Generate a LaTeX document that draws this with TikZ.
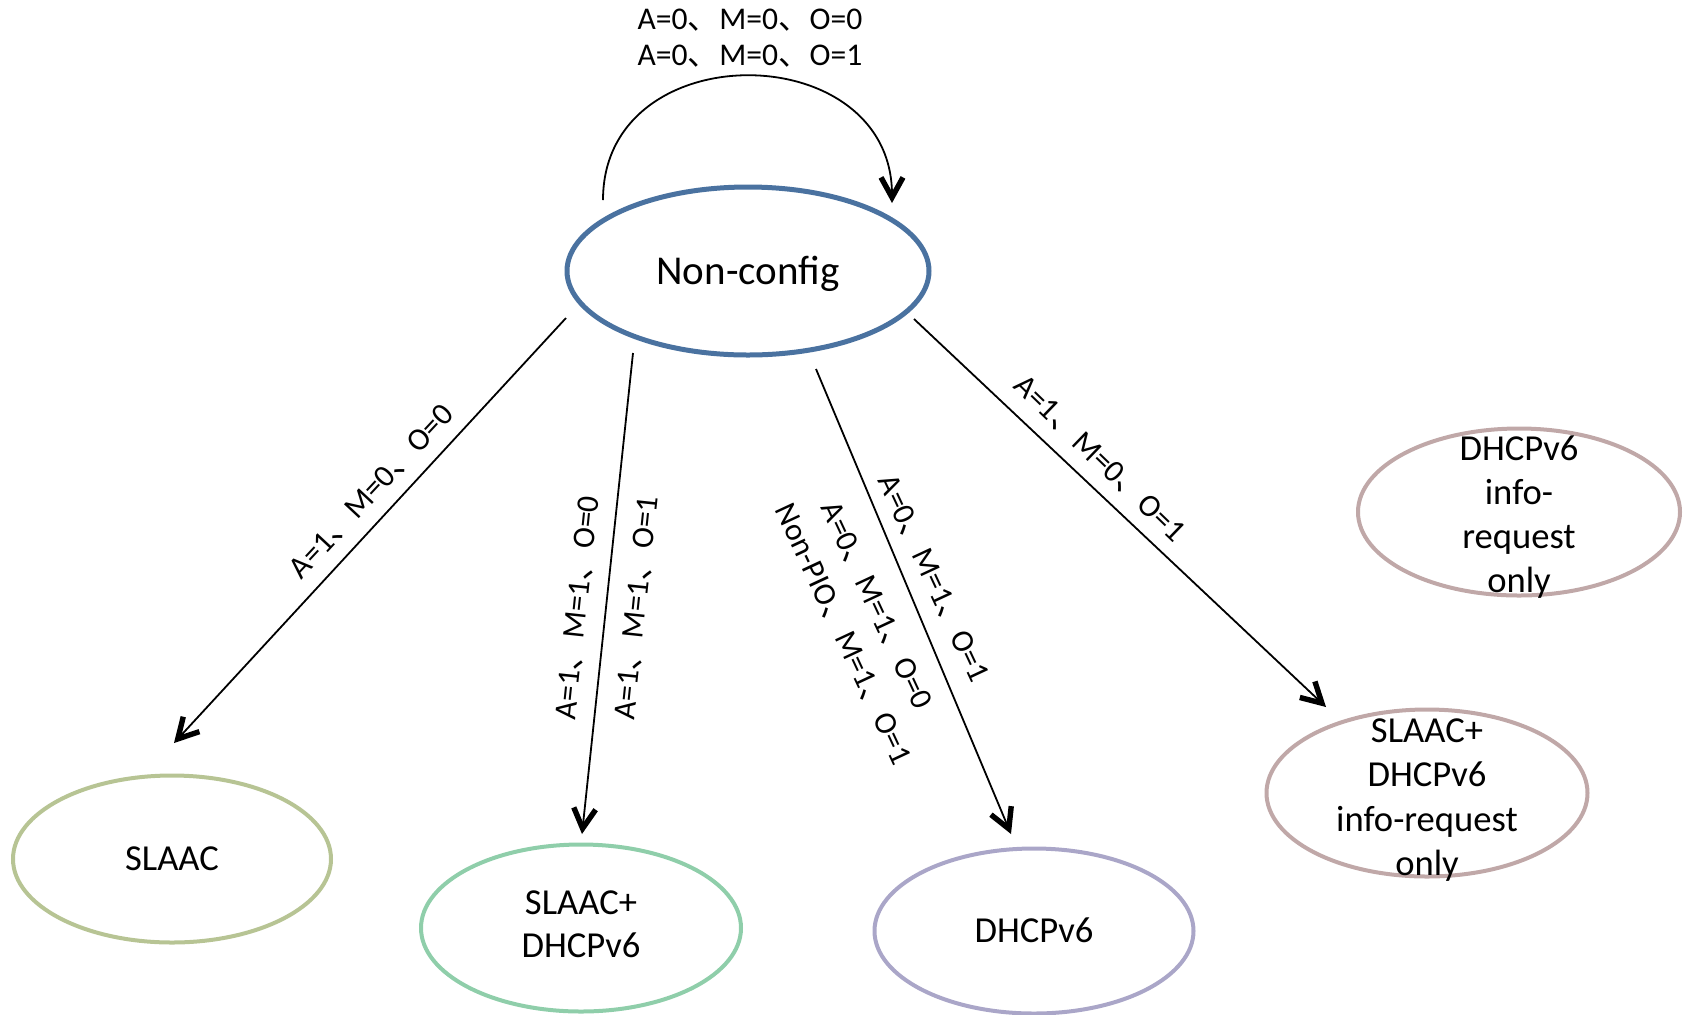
\documentclass[tikz,border=0pt]{standalone}
\usepackage{fontspec}
\setmainfont{Carlito}
\newfontfamily\cjk{Noto Sans CJK SC}
\usetikzlibrary{arrows.meta,shapes.geometric}
\newcommand\dunhao{{\cjk 、}}
\definecolor{ncblue}{RGB}{74,114,160}
\definecolor{slgreen}{RGB}{183,196,148}
\definecolor{sdgreen}{RGB}{143,206,170}
\definecolor{dhlav}{RGB}{170,166,200}
\definecolor{irrose}{RGB}{192,168,168}
\begin{document}
\begin{tikzpicture}[x=0.5pt,y=-0.5pt,
  st/.style={draw, ellipse, inner sep=0pt, line width=2pt, align=center,
    font=\fontsize{18.3}{21.5}\selectfont, text height=11.8pt, text depth=0pt},
  txt/.style={inner sep=0pt, align=center, font=\fontsize{18.3}{21.5}\selectfont},
  lab/.style={inner sep=0pt, font=\fontsize{15.8}{18}\selectfont, text height=10.2pt, text depth=0pt},
  arr/.style={line width=0.9pt, -{Straight Barb[length=10pt, width=11pt, line width=2.7pt 0]}}]
\useasboundingbox (0,0) rectangle (1688,1014);

% states
\node[st, draw=ncblue, line width=2.5pt, minimum width=181pt, minimum height=84pt,
  font=\fontsize{20.5}{24}\selectfont, text height=13.2pt] (nc) at (748,271) {Non-config};
\node[st, draw=slgreen, minimum width=159pt, minimum height=83.5pt] (sl) at (172,859) {SLAAC};
\node[st, draw=sdgreen, minimum width=160pt, minimum height=83.5pt] (sd) at (581,928) {};
\node[txt] (sdt) at (581,924) {SLAAC+\\DHCPv6};
\node[st, draw=dhlav, minimum width=159.5pt, minimum height=82.5pt] (dh) at (1034,931) {DHCPv6};
\node[st, draw=irrose, minimum width=161pt, minimum height=83.5pt] (ir) at (1519,512) {};
\node[txt, font=\fontsize{18.3}{22}\selectfont] (irt) at (1519,517) {DHCPv6\\info-\\request\\only};
\node[st, draw=irrose, minimum width=160.5pt, minimum height=83.5pt] (si) at (1427,793) {};
\node[txt, font=\fontsize{18.3}{22.2}\selectfont] (sit) at (1427,800) {SLAAC+\\DHCPv6\\info-request\\only};

% connector end points
\coordinate (ls) at (603,200);
\coordinate (le) at (892,203);
\coordinate (a1s) at (566,318);
\coordinate (a1e) at (174,743);
\coordinate (a2s) at (633,353);
\coordinate (a2e) at (582,834);
\coordinate (a3s) at (816,369);
\coordinate (a3e) at (1011,834);
\coordinate (a4s) at (914,319);
\coordinate (a4e) at (1326,707);

% connectors
\draw[arr] (ls) .. controls +(0,-167) and +(0,-167) .. (le);
\draw[arr] (a1s) -- (a1e);
\draw[arr] (a2s) -- (a2e);
\draw[arr] (a3s) -- (a3e);
\draw[arr] (a4s) -- (a4e);

% labels
\node[lab] (t1) at (750,19.5) {A=0\dunhao M=0\dunhao O=0};
\node[lab] (t2) at (750,55.5) {A=0\dunhao M=0\dunhao O=1};
\node[lab, rotate=47] (l1) at (371,491) {A=1\dunhao M=0\dunhao O=0};
\node[lab, rotate=84] (l2a) at (577,608) {A=1\dunhao M=1\dunhao O=0};
\node[lab, rotate=84] (l2b) at (636,608) {A=1\dunhao M=1\dunhao O=1};
\node[lab, rotate=-65] (l3a) at (934,578) {A=0\dunhao M=1\dunhao O=1};
\node[lab, rotate=-65] (l3b) at (877,605) {A=0\dunhao M=1\dunhao O=0};
\node[lab, rotate=-65] (l3c) at (844,634) {Non-PIO\dunhao M=1\dunhao O=1};
\node[lab, rotate=-44] (l4) at (1100,458) {A=1\dunhao M=0\dunhao O=1};
\end{tikzpicture}
\end{document}
